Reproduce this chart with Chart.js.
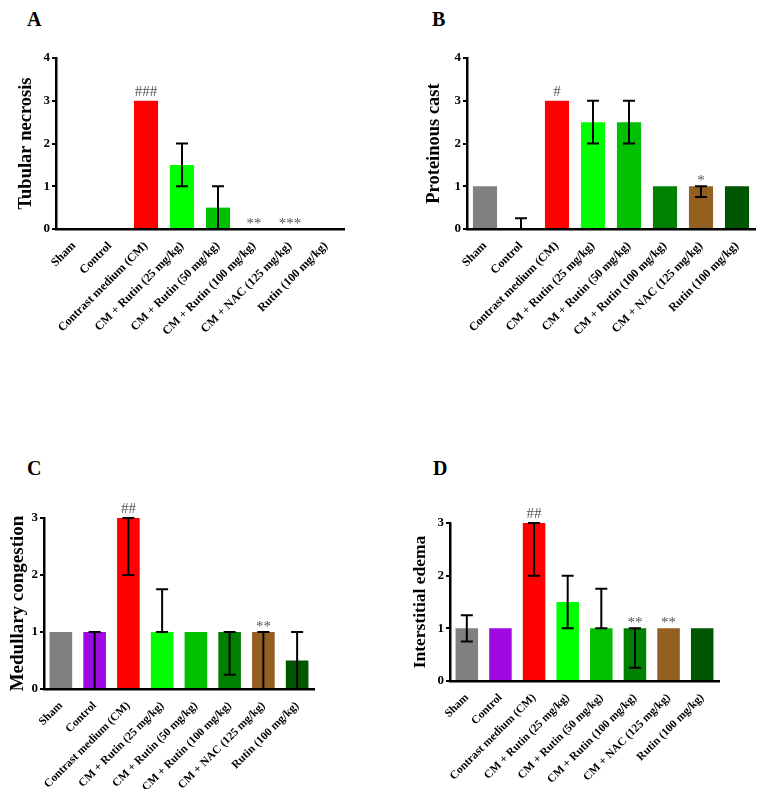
<!DOCTYPE html>
<html>
<head>
<meta charset="utf-8">
<script src="https://cdn.jsdelivr.net/npm/chart.js@4.4.1/dist/chart.umd.min.js"></script>
<style>
  body { margin: 0; background: #fff; width: 764px; height: 789px; position: relative; overflow: hidden; }
  canvas { position: absolute; }
  .letter { position: absolute; font: bold 20px 'Liberation Serif', 'Times New Roman', serif; line-height: 20px; color: #000; }
</style>
</head>
<body>
<div class="letter" style="left:27px;top:9px">A</div>
<div class="letter" style="left:432px;top:9px">B</div>
<div class="letter" style="left:27px;top:458px">C</div>
<div class="letter" style="left:433px;top:458px">D</div>
<canvas id="chartA" width="380" height="440" style="left:0;top:0"></canvas>
<canvas id="chartB" width="384" height="440" style="left:380px;top:0"></canvas>
<canvas id="chartC" width="380" height="349" style="left:0;top:440px"></canvas>
<canvas id="chartD" width="384" height="349" style="left:380px;top:440px"></canvas>
<script>
// groups and colours shared by all four panels
const groups = ['Sham', 'Control', 'Contrast medium (CM)', 'CM + Rutin (25 mg/kg)', 'CM + Rutin (50 mg/kg)',
    'CM + Rutin (100 mg/kg)', 'CM + NAC (125 mg/kg)', 'Rutin (100 mg/kg)'];
const barColors = ['#808080', '#a00ae2', '#ff0000', '#00ff00', '#00c000', '#008000', '#946020', '#005500'];

// A - tubular necrosis
const tubularNecrosis = [0, 0, 3, 1.5, 0.5, 0, 0, 0];
const tubularLow = [null, null, null, 1, 0, null, null, null];
const tubularHigh = [null, null, null, 2, 1, null, null, null];
const tubularMarks = ['', '', '###', '', '', '**', '***', ''];

// B - proteinous cast
const proteinousCast = [1, 0, 3, 2.5, 2.5, 1, 1, 1];
const castLow = [null, 0, null, 2, 2, null, 0.75, null];
const castHigh = [null, 0.25, null, 3, 3, null, 1, null];
const castMarks = ['', '', '#', '', '', '', '*', ''];

// C - medullary congestion
const medullaryCongestion = [1, 1, 3, 1, 1, 1, 1, 0.5];
const congestionLow = [null, 0, 2, 1, null, 0.25, 0, 0];
const congestionHigh = [null, 1, 3, 1.75, null, 1, 1, 1];
const congestionMarks = ['', '', '##', '', '', '', '**', ''];

// D - interstitial edema
const interstitialEdema = [1, 1, 3, 1.5, 1, 1, 1, 1];
const edemaLow = [0.75, null, 2, 1, 1, 0.25, null, null];
const edemaHigh = [1.25, null, 3, 2, 1.75, 1, null, null];
const edemaMarks = ['', '', '##', '', '', '**', '**', ''];

const serif = "'Liberation Serif', 'Times New Roman', serif";

// error bars + significance marks, placed with the chart's own scales
const errorBars = {
    id: 'errorBars',
    afterDatasetsDraw(chart, args, opts) {
        const { ctx, scales: { x, y } } = chart;
        const values = chart.data.datasets[0].data;
        ctx.save();
        ctx.strokeStyle = '#000';
        ctx.lineWidth = 2;
        opts.low.forEach((lo, i) => {
            if (lo === null) return;
            const cx = x.getPixelForValue(i);
            const y1 = y.getPixelForValue(lo);
            const y2 = y.getPixelForValue(opts.high[i]);
            ctx.beginPath();
            ctx.moveTo(cx, y1); ctx.lineTo(cx, y2);
            ctx.moveTo(cx - 6, y1); ctx.lineTo(cx + 6, y1);
            ctx.moveTo(cx - 6, y2); ctx.lineTo(cx + 6, y2);
            ctx.stroke();
        });
        ctx.fillStyle = '#555';
        ctx.font = '15px ' + serif;
        ctx.textAlign = 'center';
        ctx.textBaseline = 'alphabetic';
        opts.marks.forEach((m, i) => {
            if (!m) return;
            const top = Math.max(values[i], opts.high[i] === null ? 0 : opts.high[i]);
            const gap = m[0] === '#' ? 5 : 1;
            ctx.fillText(m, x.getPixelForValue(i), y.getPixelForValue(top) - gap);
        });
        ctx.restore();
    }
};

function makePanel(id, values, low, high, marks, title, cfg) {
    const canvas = document.getElementById(id);
    const W = canvas.width, H = canvas.height;
    new Chart(canvas, {
        type: 'bar',
        data: {
            labels: groups,
            datasets: [{
                data: values,
                backgroundColor: barColors,
                borderWidth: 0,
                barPercentage: 0.67,
                categoryPercentage: 1
            }]
        },
        options: {
            responsive: false,
            animation: false,
            layout: { padding: { top: cfg.top, right: W - cfg.right, left: 0, bottom: 0 } },
            plugins: {
                legend: { display: false },
                tooltip: { enabled: false },
                errorBars: { low, high, marks }
            },
            scales: {
                x: {
                    grid: { display: false, drawTicks: false },
                    border: { color: '#000', width: 2.5, z: 1 },
                    ticks: {
                        color: '#000',
                        font: { family: serif, size: cfg.xFont, weight: 'bold' },
                        minRotation: 45, maxRotation: 45,
                        autoSkip: false,
                        padding: 10
                    },
                    afterFit: (s) => { s.height = H - cfg.bottom; s.paddingLeft = 0; s.paddingRight = 0; }
                },
                y: {
                    min: 0,
                    max: cfg.max,
                    grid: { drawOnChartArea: false, tickLength: 4, color: '#000', lineWidth: 2 },
                    border: { color: '#000', width: 2.5, z: 1 },
                    ticks: {
                        stepSize: 1,
                        color: '#000',
                        font: { family: serif, size: 13, weight: 'bold' },
                        padding: 2
                    },
                    title: {
                        display: true,
                        text: title,
                        color: '#000',
                        font: { family: serif, size: cfg.titleSize, weight: 'bold' },
                        padding: { top: cfg.titlePad, bottom: 0 }
                    },
                    afterFit: (s) => { s.width = cfg.left; s.paddingTop = 0; s.paddingBottom = 0; }
                }
            }
        },
        plugins: [errorBars]
    });
}

makePanel('chartA', tubularNecrosis, tubularLow, tubularHigh, tubularMarks, 'Tubular necrosis',
    { left: 56, right: 344, top: 58, bottom: 229, max: 4, titleSize: 18.5, titlePad: 15, xFont: 12 });
makePanel('chartB', proteinousCast, castLow, castHigh, castMarks, 'Proteinous cast',
    { left: 87, right: 375, top: 58, bottom: 229, max: 4, titleSize: 18.5, titlePad: 43, xFont: 12 });
makePanel('chartC', medullaryCongestion, congestionLow, congestionHigh, congestionMarks, 'Medullary congestion',
    { left: 44, right: 314, top: 78, bottom: 249, max: 3, titleSize: 19, titlePad: 7, xFont: 11.5 });
makePanel('chartD', interstitialEdema, edemaLow, edemaHigh, edemaMarks, 'Interstitial edema',
    { left: 70, right: 339, top: 83, bottom: 241, max: 3, titleSize: 17.5, titlePad: 30, xFont: 11.5 });
</script>
</body>
</html>
